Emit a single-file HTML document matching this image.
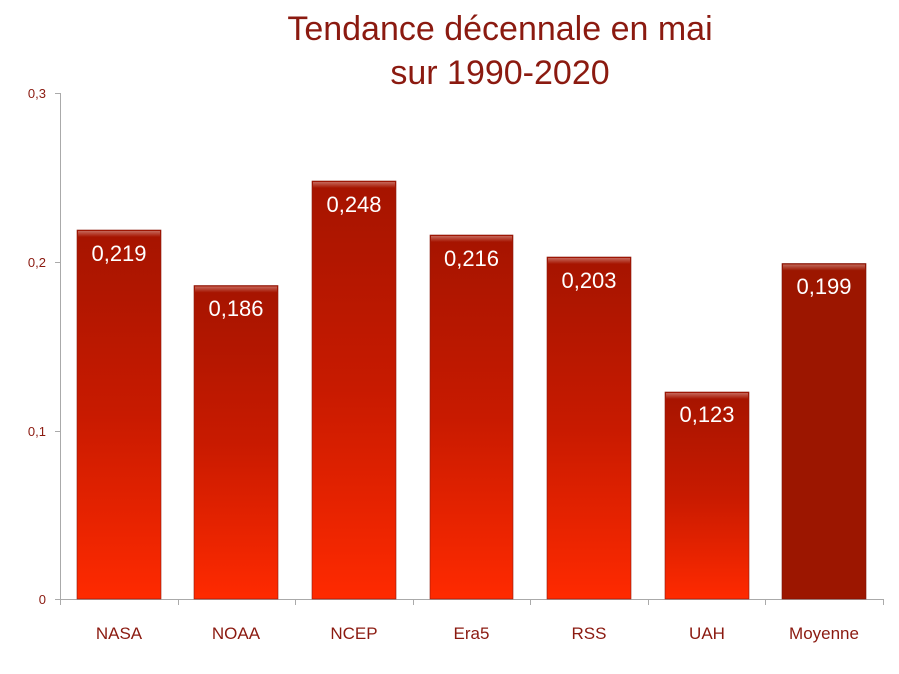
<!DOCTYPE html>
<html><head><meta charset="utf-8"><style>
html,body{margin:0;padding:0;background:#fff;}
svg{display:block;font-family:"Liberation Sans",sans-serif;}
</style></head><body>
<svg width="899" height="674" viewBox="0 0 899 674" xmlns="http://www.w3.org/2000/svg">
<defs>
<linearGradient id="g" x1="0" y1="0" x2="0" y2="1">
<stop offset="0" stop-color="#a51400"/>
<stop offset="0.5" stop-color="#c81a00"/>
<stop offset="1" stop-color="#ff2a00"/>
</linearGradient>
<linearGradient id="hl" x1="0" y1="0" x2="0" y2="1">
<stop offset="0" stop-color="#ffffff" stop-opacity="0.35"/>
<stop offset="1" stop-color="#ffffff" stop-opacity="0"/>
</linearGradient>
</defs>
<text x="500" y="40" text-anchor="middle" font-size="34" fill="#8b1a10">Tendance décennale en mai</text>
<text x="500" y="84" text-anchor="middle" font-size="34" fill="#8b1a10">sur 1990-2020</text>
<g stroke="#aaa" stroke-width="1">
<line x1="60.5" y1="93" x2="60.5" y2="599"/>
<line x1="60" y1="599.5" x2="883" y2="599.5"/>
<line x1="55" y1="93.5" x2="60" y2="93.5"/>
<line x1="55" y1="262.5" x2="60" y2="262.5"/>
<line x1="55" y1="431.5" x2="60" y2="431.5"/>
<line x1="55" y1="599.5" x2="60" y2="599.5"/>
<line x1="60.5" y1="599" x2="60.5" y2="605"/>
<line x1="178.5" y1="599" x2="178.5" y2="605"/>
<line x1="295.5" y1="599" x2="295.5" y2="605"/>
<line x1="413.5" y1="599" x2="413.5" y2="605"/>
<line x1="530.5" y1="599" x2="530.5" y2="605"/>
<line x1="648.5" y1="599" x2="648.5" y2="605"/>
<line x1="765.5" y1="599" x2="765.5" y2="605"/>
<line x1="883.5" y1="599" x2="883.5" y2="605"/>
</g>
<g font-size="13" fill="#8b1a10" text-anchor="end">
<text x="46" y="98">0,3</text>
<text x="46" y="267">0,2</text>
<text x="46" y="436">0,1</text>
<text x="46" y="604">0</text>
</g>
<g fill="url(#g)" stroke="#8a1a10" stroke-width="0.6">
<rect x="77" y="230" width="84" height="369"/>
<rect x="194" y="285.5" width="84" height="313.5"/>
<rect x="312" y="181" width="84" height="418"/>
<rect x="430" y="235" width="83" height="364"/>
<rect x="547" y="257" width="84" height="342"/>
<rect x="665" y="392" width="84" height="207"/>
</g>
<rect x="782" y="263.5" width="84" height="335.5" fill="#9c1600" stroke="#7a1208" stroke-width="0.6"/>
<g fill="url(#hl)">
<rect x="78" y="231" width="82" height="6"/>
<rect x="195" y="286.5" width="82" height="6"/>
<rect x="313" y="182" width="82" height="6"/>
<rect x="431" y="236" width="81" height="6"/>
<rect x="548" y="258" width="82" height="6"/>
<rect x="666" y="393" width="82" height="6"/>
<rect x="783" y="264.5" width="82" height="6"/>
</g>
<g font-size="22" fill="#fff" text-anchor="middle">
<text x="119" y="261">0,219</text>
<text x="236" y="316">0,186</text>
<text x="354" y="212">0,248</text>
<text x="471.5" y="266">0,216</text>
<text x="589" y="288">0,203</text>
<text x="707" y="422">0,123</text>
<text x="824" y="294">0,199</text>
</g>
<g font-size="17" fill="#8b1a10" text-anchor="middle">
<text x="119" y="639">NASA</text>
<text x="236" y="639">NOAA</text>
<text x="354" y="639">NCEP</text>
<text x="471.5" y="639">Era5</text>
<text x="589" y="639">RSS</text>
<text x="707" y="639">UAH</text>
<text x="824" y="639">Moyenne</text>
</g>
</svg>
</body></html>
